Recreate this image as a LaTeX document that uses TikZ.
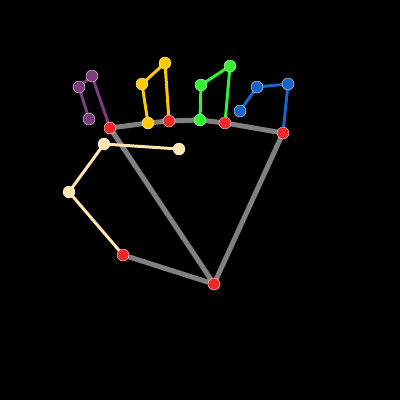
\documentclass[tikz,border=0pt]{standalone}
\definecolor{kred}{RGB}{240,40,40}
\definecolor{kpurple}{RGB}{125,60,125}
\definecolor{kyellow}{RGB}{255,200,0}
\definecolor{kgreen}{RGB}{50,240,50}
\definecolor{kblue}{RGB}{25,100,200}
\definecolor{kbeige}{RGB}{255,228,180}
\definecolor{kgray}{RGB}{128,128,128}
\begin{document}
\begin{tikzpicture}[x=1pt,y=-1pt,
  kp/.style={circle,inner sep=0pt,minimum size=12pt,draw=white,line width=0.3pt,fill=#1},
  bone/.style={line width=3pt,draw=#1},
  palm/.style={line width=5pt,draw=kgray}]
\fill[black] (0,0) rectangle (400,400);
\useasboundingbox (0,0) rectangle (400,400);
% coordinates
\coordinate (w) at (214,284);
\coordinate (t0) at (123,255);
\coordinate (t1) at (69,192);
\coordinate (t2) at (104,144);
\coordinate (t3) at (179,149);
\coordinate (i0) at (110,128);
\coordinate (i1) at (92,76);
\coordinate (i2) at (79,87);
\coordinate (i3) at (89,119);
\coordinate (m0) at (169,121);
\coordinate (m1) at (165,63);
\coordinate (m2) at (142,84);
\coordinate (m3) at (148,123);
\coordinate (r0) at (225,123);
\coordinate (r1) at (230,66);
\coordinate (r2) at (201,85);
\coordinate (r3) at (200,120);
\coordinate (p0) at (283,133);
\coordinate (p1) at (288,84);
\coordinate (p2) at (257,87);
\coordinate (p3) at (240,111);
% palm
\draw[palm] (t0) -- (w) -- (i0);
\draw[palm] (w) -- (p0);
\draw[palm] (i0) -- (m3) -- (m0) -- (r3) -- (r0) -- (p0);
% fingers
\draw[bone=kbeige] (t0) -- (t1) -- (t2) -- (t3);
\draw[bone=kpurple] (i0) -- (i1) -- (i2) -- (i3);
\draw[bone=kyellow] (m0) -- (m1) -- (m2) -- (m3);
\draw[bone=kgreen] (r0) -- (r1) -- (r2) -- (r3);
\draw[bone=kblue] (p0) -- (p1) -- (p2) -- (p3);
% keypoints
\node[kp=kred] (nw) at (w) {};
\node[kp=kred] (nt0) at (t0) {};
\node[kp=kbeige] (nt1) at (t1) {};
\node[kp=kbeige] (nt2) at (t2) {};
\node[kp=kbeige] (nt3) at (t3) {};
\node[kp=kred] (ni0) at (i0) {};
\node[kp=kpurple] (ni1) at (i1) {};
\node[kp=kpurple] (ni2) at (i2) {};
\node[kp=kpurple] (ni3) at (i3) {};
\node[kp=kred] (nm0) at (m0) {};
\node[kp=kyellow] (nm1) at (m1) {};
\node[kp=kyellow] (nm2) at (m2) {};
\node[kp=kyellow] (nm3) at (m3) {};
\node[kp=kred] (nr0) at (r0) {};
\node[kp=kgreen] (nr1) at (r1) {};
\node[kp=kgreen] (nr2) at (r2) {};
\node[kp=kgreen] (nr3) at (r3) {};
\node[kp=kred] (np0) at (p0) {};
\node[kp=kblue] (np1) at (p1) {};
\node[kp=kblue] (np2) at (p2) {};
\node[kp=kblue] (np3) at (p3) {};
\end{tikzpicture}
\end{document}
